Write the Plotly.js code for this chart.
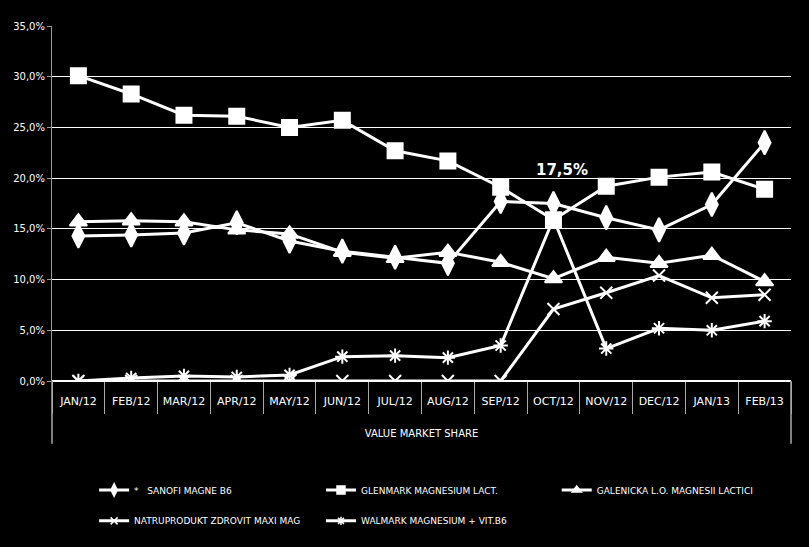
<!DOCTYPE html>
<html>
<head>
<meta charset="utf-8">
<script src="https://cdn.plot.ly/plotly-3.0.1.min.js"></script>
<style>
html, body { margin: 0; padding: 0; background: #000; }
#myPlot { width: 809px; height: 547px; }
</style>
</head>
<body>
<div id="myPlot"></div>
<script>
var months = ['JAN/12', 'FEB/12', 'MAR/12', 'APR/12', 'MAY/12', 'JUN/12', 'JUL/12',
              'AUG/12', 'SEP/12', 'OCT/12', 'NOV/12', 'DEC/12', 'JAN/13', 'FEB/13'];

var sanofi       = [14.3, 14.4, 14.6, 15.6, 13.8, 12.8, 12.2, 11.6, 17.7, 17.5, 16.1, 14.9, 17.4, 23.5];
var glenmark     = [30.1, 28.3, 26.2, 26.1, 25.0, 25.7, 22.7, 21.7, 19.1, 15.9, 19.2, 20.1, 20.6, 18.9];
var galenicka    = [15.7, 15.8, 15.7, 14.9, 14.5, 12.7, 12.1, 12.7, 11.7, 10.1, 12.2, 11.6, 12.4, 9.8];
var natruprodukt = [0, 0, 0, 0, 0, 0, 0, 0, 0, 7.1, 8.7, 10.4, 8.2, 8.5];
var walmark      = [0, 0.3, 0.5, 0.4, 0.6, 2.4, 2.5, 2.3, 3.5, 16.0, 3.2, 5.2, 5.0, 5.9];

var names = ['*\u00a0\u00a0\u00a0SANOFI MAGNE B6', 'GLENMARK MAGNESIUM LACT.',
             'GALENICKA L.O. MAGNESII LACTICI', 'NATRUPRODUKT ZDROVIT MAXI MAG',
             'WALMARK MAGNESIUM + VIT.B6'];
var series = [sanofi, glenmark, galenicka, natruprodukt, walmark];
var symbols = ['diamond-tall', 'square', 'triangle-up', 'x-thin-open', 'asterisk-open'];
var sizes = [17, 15, 15, 12, 12];
var legendSizes = [9, 8, 8, 7, 7];
var legendIds = ['legend', 'legend2', 'legend3', 'legend4', 'legend5'];

var font = 'Liberation Sans Narrow, Arial Narrow, DejaVu Sans, sans-serif';

var data = [];
// the plotted lines
series.forEach(function(y, i) {
  data.push({
    x: months, y: y, name: names[i], type: 'scatter', mode: 'lines+markers',
    showlegend: false,
    line: {color: '#fff', width: 3},
    marker: {symbol: symbols[i], size: sizes[i], color: '#fff', line: {color: '#fff', width: 2}}
  });
});
// legend entries with small symbols, like the original
series.forEach(function(y, i) {
  data.push({
    x: [null], y: [null], name: names[i], type: 'scatter', mode: 'lines+markers',
    legend: legendIds[i], hoverinfo: 'skip',
    line: {color: '#fff', width: 3},
    marker: {symbol: symbols[i], size: legendSizes[i], color: '#fff', line: {color: '#fff', width: 1.5}}
  });
});

function legendAt(x, y) {
  return {
    x: x, y: y, xanchor: 'left', yanchor: 'middle', orientation: 'v',
    font: {family: font, size: 9, color: '#fff', stretch: 'condensed'},
    bgcolor: 'rgba(0,0,0,0)', itemwidth: 30, itemclick: false
  };
}

var layout = {
  width: 809, height: 547,
  paper_bgcolor: '#000', plot_bgcolor: '#000',
  margin: {l: 52, r: 18, t: 26, b: 166},
  separators: ', ',
  font: {family: font, color: '#fff', size: 11, stretch: 'condensed'},
  showlegend: true,
  legend:  legendAt(0.057, -0.307),
  legend2: legendAt(0.364, -0.307),
  legend3: legendAt(0.683, -0.307),
  legend4: legendAt(0.057, -0.394),
  legend5: legendAt(0.364, -0.394),
  xaxis: {
    type: 'category', range: [-0.5, 13.5], fixedrange: true,
    showgrid: false, showline: false, zeroline: false,
    ticks: 'outside', tickson: 'boundaries', ticklen: 32, tickcolor: '#aaa', tickwidth: 1,
    tickangle: 0, ticklabelstandoff: 12,
    tickfont: {family: font, size: 11, color: '#fff', stretch: 'condensed'},
    title: {text: 'VALUE MARKET SHARE', standoff: 22,
            font: {family: font, size: 10, color: '#fff', stretch: 'condensed'}}
  },
  yaxis: {
    range: [0, 35], dtick: 5, tickformat: '.1f', ticksuffix: '%',
    showgrid: true, gridcolor: '#fff', gridwidth: 1,
    zeroline: true, zerolinecolor: '#fff', zerolinewidth: 1.5,
    showline: true, linecolor: '#999', linewidth: 1,
    ticks: 'outside', ticklen: 4, tickcolor: '#999',
    tickfont: {family: font, size: 10, color: '#fff', stretch: 'condensed'},
    fixedrange: true
  },
  shapes: [
    {type: 'line', xref: 'paper', yref: 'paper', x0: 0, x1: 0, y0: 0, y1: -0.177,
     line: {color: '#aaa', width: 1.5}},
    {type: 'line', xref: 'paper', yref: 'paper', x0: 1, x1: 1, y0: 0, y1: -0.177,
     line: {color: '#aaa', width: 1.5}}
  ],
  annotations: [{
    x: months[9], y: sanofi[9], xref: 'x', yref: 'y',
    text: sanofi[9].toFixed(1).replace('.', ',') + '%',
    showarrow: false, xshift: 9, yshift: 34,
    font: {family: font, size: 15, color: '#fff', weight: 'bold', stretch: 'condensed'}
  }]
};

Plotly.newPlot('myPlot', data, layout, {displayModeBar: false, staticPlot: true});
</script>
</body>
</html>
